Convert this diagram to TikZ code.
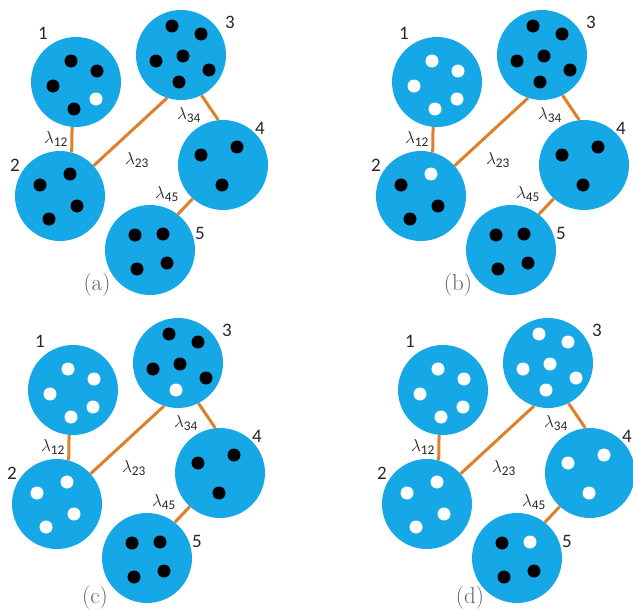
\documentclass[tikz,border=0pt]{standalone}
\usepackage{fontspec}
\newfontfamily\numfont{Carlito}
\definecolor{cellblue}{RGB}{22,168,230}
\definecolor{linkorange}{RGB}{222,128,42}
\newcommand{\lam}[1]{$\lambda$\textsubscript{#1}}

\begin{document}
\begin{tikzpicture}[
	x=1pt, y=-1pt,
	cell/.style = {circle, fill=cellblue, minimum size=90, inner sep=0},
	num/.style  = {font=\numfont\fontsize{19}{21}\selectfont, text=black!85},
	lbl/.style  = {font=\numfont\fontsize{19}{21}\selectfont, text=black!85, inner sep=0},
	tag/.style  = {font=\fontsize{23}{25}\selectfont, text=black!62},
	bk/.style   = {fill=black},
	wt/.style   = {fill=white},
	e/.style    = {draw=linkorange, line width=3}
	]
	\useasboundingbox (0,0) rectangle (633,613);
	\clip (0,0) rectangle (633,613);
	
	% ===== ===== ===== ===== =====
	
	% Nodes
	\node[cell]	(a1)	at	(76,82)		{};
	\node[cell]	(a2)	at	(60,196)	{};
	\node[cell]	(a3)	at	(181,55)	{};
	\node[cell]	(a4)	at	(223,165)	{};
	\node[cell]	(a5)	at	(150,250)	{};
	
	\node[num]	(a1n)	at	(43,33)		{1};
	\node[num]	(a2n)	at	(15,165)	{2};
	\node[num]	(a3n)	at	(230,22)	{3};
	\node[num]	(a4n)	at	(260,128)	{4};
	\node[num]	(a5n)	at	(200,233)	{5};
	
	\node[lbl]	(a12)	at	(56,139)	{\lam{12}};
	\node[lbl]	(a23)	at	(137,160)	{\lam{23}};
	\node[lbl]	(a34)	at	(189,115)	{\lam{34}};
	\node[lbl]	(a45)	at	(167,194)	{\lam{45}};
	\node[tag]	(atag)	at	(97,285)	{(a)};
	
	% Dots
	\foreach \p in {(71,61),(97,71),(53,86),(74,109)} \fill[bk] \p circle[radius=6.5pt];
	\fill[wt] (96,99) circle[radius=6.5pt];
	\foreach \p in {(70,174),(40,185),(77,206),(49,219)} \fill[bk] \p circle[radius=6.5pt];
	\foreach \p in {(172,26),(201,34),(156,61),(183,56),(209,70),(179,82)} \fill[bk] \p circle[radius=6.5pt];
	\foreach \p in {(201,155),(237,147),(222,185)} \fill[bk] \p circle[radius=6.5pt];
	\foreach \p in {(135,235),(163,234),(137,269),(167,263)} \fill[bk] \p circle[radius=6.5pt];
	
	% Lines
	\draw[e]	(a1.265)	--	(a2.75);
	\draw[e]	(a2.42)		--	(a3.252);
	\draw[e]	(a3.297)	--	(a4.96);
	\draw[e]	(a4.228)	--	(a5.52);
	
	% ===== ===== ===== ===== =====
	\begin{scope}[shift={(361,0)}]
	
	% Nodes
	\node[cell]	(b1)	at	(76,82)		{};
	\node[cell]	(b2)	at	(60,196)	{};
	\node[cell]	(b3)	at	(181,55)	{};
	\node[cell]	(b4)	at	(223,165)	{};
	\node[cell]	(b5)	at	(150,250)	{};
	
	\node[num]	(b1n)	at	(43,33)		{1};
	\node[num]	(b2n)	at	(15,165)	{2};
	\node[num]	(b3n)	at	(230,22)	{3};
	\node[num]	(b4n)	at	(260,128)	{4};
	\node[num]	(b5n)	at	(200,233)	{5};
	
	\node[lbl]	(b12)	at	(56,139)	{\lam{12}};
	\node[lbl]	(b23)	at	(137,160)	{\lam{23}};
	\node[lbl]	(b34)	at	(189,115)	{\lam{34}};
	\node[lbl]	(b45)	at	(167,194)	{\lam{45}};
	\node[tag]	(btag)	at	(97,285)	{(b)};
	
	% Dots
	\foreach \p in {(71,61),(97,71),(53,86),(74,109),(96,99)} \fill[wt] \p circle[radius=6.5pt];
	\fill[wt] (70,174) circle[radius=6.5pt];
	\foreach \p in {(40,185),(77,206),(49,219)} \fill[bk] \p circle[radius=6.5pt];
	\foreach \p in {(172,26),(201,34),(156,61),(183,56),(209,70),(179,82)} \fill[bk] \p circle[radius=6.5pt];
	\foreach \p in {(201,155),(237,147),(222,185)} \fill[bk] \p circle[radius=6.5pt];
	\foreach \p in {(135,235),(163,234),(137,269),(167,263)} \fill[bk] \p circle[radius=6.5pt];
	
	% Lines
	\draw[e]	(b1.265)	--	(b2.75);
	\draw[e]	(b2.42)		--	(b3.252);
	\draw[e]	(b3.297)	--	(b4.96);
	\draw[e]	(b4.228)	--	(b5.52);
	\end{scope}
	
	% ===== ===== ===== ===== =====
	\begin{scope}[shift={(-3,308)}]
	
	% Nodes
	\node[cell]	(c1)	at	(76,82)		{};
	\node[cell]	(c2)	at	(60,196)	{};
	\node[cell]	(c3)	at	(181,55)	{};
	\node[cell]	(c4)	at	(223,165)	{};
	\node[cell]	(c5)	at	(150,250)	{};
	
	\node[num]	(c1n)	at	(43,33)		{1};
	\node[num]	(c2n)	at	(15,165)	{2};
	\node[num]	(c3n)	at	(230,22)	{3};
	\node[num]	(c4n)	at	(260,128)	{4};
	\node[num]	(c5n)	at	(200,233)	{5};
	
	\node[lbl]	(c12)	at	(56,139)	{\lam{12}};
	\node[lbl]	(c23)	at	(137,160)	{\lam{23}};
	\node[lbl]	(c34)	at	(189,115)	{\lam{34}};
	\node[lbl]	(c45)	at	(167,194)	{\lam{45}};
	\node[tag]	(ctag)	at	(98,290)	{(c)};
	
	% Dots
	\foreach \p in {(71,61),(97,71),(53,86),(74,109),(96,99)} \fill[wt] \p circle[radius=6.5pt];
	\foreach \p in {(70,174),(40,185),(77,206),(49,219)} \fill[wt] \p circle[radius=6.5pt];
	\foreach \p in {(172,26),(201,34),(156,61),(183,56),(209,70)} \fill[bk] \p circle[radius=6.5pt];
	\fill[wt] (179,82) circle[radius=6.5pt];
	\foreach \p in {(201,155),(237,147),(222,185)} \fill[bk] \p circle[radius=6.5pt];
	\foreach \p in {(135,235),(163,234),(137,269),(167,263)} \fill[bk] \p circle[radius=6.5pt];
	
	% Lines
	\draw[e]	(c1.265)	--	(c2.75);
	\draw[e]	(c2.42)		--	(c3.252);
	\draw[e]	(c3.297)	--	(c4.96);
	\draw[e]	(c4.228)	--	(c5.52);
	\end{scope}
	
	% ===== ===== ===== ===== =====
	\begin{scope}[shift={(367,308)}]
	
	% Nodes
	\node[cell]	(d1)	at	(76,82)		{};
	\node[cell]	(d2)	at	(60,196)	{};
	\node[cell]	(d3)	at	(181,55)	{};
	\node[cell]	(d4)	at	(223,165)	{};
	\node[cell]	(d5)	at	(150,250)	{};
	
	\node[num]	(d1n)	at	(43,33)		{1};
	\node[num]	(d2n)	at	(15,165)	{2};
	\node[num]	(d3n)	at	(230,22)	{3};
	\node[num]	(d4n)	at	(260,128)	{4};
	\node[num]	(d5n)	at	(200,233)	{5};
	
	\node[lbl]	(d12)	at	(56,139)	{\lam{12}};
	\node[lbl]	(d23)	at	(137,160)	{\lam{23}};
	\node[lbl]	(d34)	at	(189,115)	{\lam{34}};
	\node[lbl]	(d45)	at	(167,194)	{\lam{45}};
	\node[tag]	(dtag)	at	(103,290)	{(d)};
	
	% Dots
	\foreach \p in {(71,61),(97,71),(53,86),(74,109),(96,99)} \fill[wt] \p circle[radius=6.5pt];
	\foreach \p in {(70,174),(40,185),(77,206),(49,219)} \fill[wt] \p circle[radius=6.5pt];
	\foreach \p in {(172,26),(201,34),(156,61),(183,56),(209,70),(179,82)} \fill[wt] \p circle[radius=6.5pt];
	\foreach \p in {(201,155),(237,147),(222,185)} \fill[wt] \p circle[radius=6.5pt];
	\foreach \p in {(135,235),(137,269),(167,263)} \fill[bk] \p circle[radius=6.5pt];
	\fill[wt] (163,234) circle[radius=6.5pt];
	
	% Lines
	\draw[e]	(d1.265)	--	(d2.75);
	\draw[e]	(d2.42)		--	(d3.252);
	\draw[e]	(d3.297)	--	(d4.96);
	\draw[e]	(d4.228)	--	(d5.52);
	\end{scope}
	
\end{tikzpicture}
\end{document}
